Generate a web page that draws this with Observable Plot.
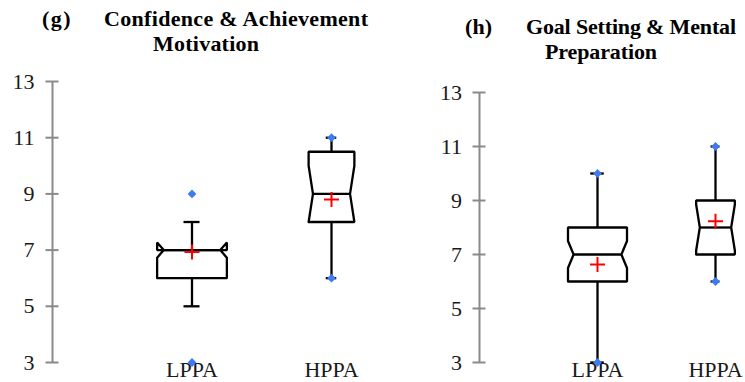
<!DOCTYPE html>
<html>
<head>
<meta charset="utf-8">
<script src="https://cdn.jsdelivr.net/npm/d3@7"></script>
<script src="https://cdn.jsdelivr.net/npm/@observablehq/plot@0.6"></script>
<style>
  html, body { margin: 0; padding: 0; background: #fff; }
  #root { position: relative; width: 745px; height: 382px; overflow: hidden; }
  #root svg { position: absolute; top: 0; }
  .t { position: absolute; font-family: "Liberation Serif", "Times New Roman", serif; font-weight: bold; font-size: 22px; line-height: 22px; white-space: nowrap; color: #000; }
</style>
</head>
<body>
<div id="root">
  <div class="t" data-w="29" style="left:42px;top:7.5px">(g)</div>
  <div class="t" data-w="264" style="left:104px;top:7.5px">Confidence &amp; Achievement</div>
  <div class="t" data-w="106" style="left:153px;top:33px">Motivation</div>
  <div class="t" data-w="27" style="left:465px;top:16px">(h)</div>
  <div class="t" data-w="210" style="left:526px;top:16px">Goal Setting &amp; Mental</div>
  <div class="t" data-w="112" style="left:545px;top:41px">Preparation</div>
</div>
<script>
// ---- data ----
const categories = ["LPPA", "HPPA"];
const yTicks = [3, 5, 7, 9, 11, 13];

// Panel (g) Confidence & Achievement Motivation
const gMin = [3, 6];
const gWhiskerLo = [5, 6];
const gQ1 = [6, 8];
const gMedian = [7, 9];
const gQ3 = [7, 10.5];
const gWhiskerHi = [8, 11];
const gMax = [9, 11];
const gMean = [6.93, 8.8];
const gNotchLo = [6.73, 8.0];
const gNotchHi = [7.27, 10.0];

// Panel (h) Goal Setting & Mental Preparation
const hMin = [3, 6];
const hWhiskerLo = [3, 6];
const hQ1 = [6, 7];
const hMedian = [7, 8];
const hQ3 = [8, 9];
const hWhiskerHi = [10, 11];
const hMax = [10, 11];
const hMean = [6.63, 8.23];
const hNotchLo = [6.5, 7.15];
const hNotchHi = [7.5, 8.85];

// ---- style ----
const boxHalfWidth = [0.25, 0.164];
const notchFrac = 0.19;   // notch inset as fraction of half width
const capFrac = 0.23;     // cap half width as fraction of half width
const axisGray = "#8a8a8a";
const pointBlue = "#3f7af5";
const fontFamily = "'Liberation Serif', 'Times New Roman', serif";

// fit title widths to the reference layout
document.querySelectorAll(".t").forEach(el => {
  const target = +el.dataset.w;
  const w = el.getBoundingClientRect().width;
  const n = el.textContent.length;
  const ls = Math.max(-1, Math.min(1.5, (target - w) / Math.max(1, n - 1)));
  el.style.letterSpacing = ls + "px";
});

const plusSymbol = {
  draw(ctx, size) {
    const r = Math.sqrt(size / Math.PI);
    ctx.moveTo(-r, 0); ctx.lineTo(r, 0);
    ctx.moveTo(0, -r); ctx.lineTo(0, r);
  }
};
const diamondSymbol = {
  draw(ctx, size) {
    const r = Math.sqrt(size / Math.PI);
    ctx.moveTo(0, -r); ctx.lineTo(r, 0); ctx.lineTo(0, r); ctx.lineTo(-r, 0); ctx.closePath();
  }
};

function panel(d, layout) {
  const rows = categories.map((c, i) => ({
    c, x: i + 1, hw: boxHalfWidth[i],
    min: d.min[i], wlo: d.wlo[i], q1: d.q1[i], med: d.med[i], q3: d.q3[i],
    whi: d.whi[i], max: d.max[i], mean: d.mean[i], nlo: d.nlo[i], nhi: d.nhi[i]
  }));
  const outline = rows.flatMap(r => {
    const L = r.x - r.hw, R = r.x + r.hw, n = r.hw * notchFrac;
    const pts = [
      [L, r.q1], [L, r.nlo], [L + n, r.med], [L, r.nhi], [L, r.q3],
      [R, r.q3], [R, r.nhi], [R - n, r.med], [R, r.nlo], [R, r.q1], [L, r.q1]
    ];
    return pts.map(([x, y]) => ({ x, y, g: r.c }));
  });
  const points = rows.flatMap(r => [{ x: r.x, y: r.min }, { x: r.x, y: r.max }]);
  const ppu = layout.ppu;
  const tickHalf = 6.5 / ppu;
  return Plot.plot({
    width: layout.width,
    height: 382,
    marginLeft: layout.originX,
    marginTop: layout.top,
    marginBottom: 20,
    marginRight: 0,
    style: { fontFamily, fontSize: "22px", color: "#1a1a1a", background: "transparent", overflow: "visible" },
    x: { type: "linear", domain: [0, 2.3], range: [layout.originX, layout.originX + 2.3 * ppu], label: null },
    y: { domain: [3, 13], range: [362, layout.top], label: null },
    marks: [
      Plot.ruleX([0], { y1: 3, y2: 13, stroke: axisGray, strokeWidth: 2 }),
      Plot.ruleY(yTicks, { y: d => d, x1: -tickHalf, x2: tickHalf, stroke: axisGray, strokeWidth: 2 }),
      Plot.axisY({ ticks: yTicks, tickSize: 0, tickPadding: layout.tickPad, label: null }),
      Plot.axisX({ ticks: [1, 2], tickFormat: v => categories[v - 1], tickSize: 0, tickPadding: -1.5, label: null }),
      Plot.ruleX(rows, { x: "x", y1: "q3", y2: "whi", stroke: "#000", strokeWidth: 2.3 }),
      Plot.ruleX(rows, { x: "x", y1: "wlo", y2: "q1", stroke: "#000", strokeWidth: 2.3 }),
      Plot.ruleY(rows, { y: "whi", x1: r => r.x - r.hw * capFrac, x2: r => r.x + r.hw * capFrac, stroke: "#000", strokeWidth: 2.3 }),
      Plot.ruleY(rows, { y: "wlo", x1: r => r.x - r.hw * capFrac, x2: r => r.x + r.hw * capFrac, stroke: "#000", strokeWidth: 2.3 }),
      Plot.line(outline, { x: "x", y: "y", z: "g", stroke: "#000", strokeWidth: 2.3, strokeLinejoin: "miter", curve: "linear" }),
      Plot.ruleY(rows, { y: "med", x1: r => r.x - r.hw * (1 - notchFrac), x2: r => r.x + r.hw * (1 - notchFrac), stroke: "#000", strokeWidth: 2.3 }),
      Plot.dot(points, { x: "x", y: "y", symbol: diamondSymbol, r: 4.4, fill: pointBlue, stroke: "none" }),
      Plot.dot(rows, { x: "x", y: "mean", symbol: plusSymbol, r: 7.5, stroke: "#ff0000", strokeWidth: 2, fill: "none" })
    ]
  });
}

const root = document.getElementById("root");
const svgG = panel({ min: gMin, wlo: gWhiskerLo, q1: gQ1, med: gMedian, q3: gQ3, whi: gWhiskerHi, max: gMax, mean: gMean, nlo: gNotchLo, nhi: gNotchHi },
  { width: 380, originX: 52, ppu: 139.5, top: 81, tickPad: 18 });
svgG.style.left = "0px";
root.appendChild(svgG);
const svgH = panel({ min: hMin, wlo: hWhiskerLo, q1: hQ1, med: hMedian, q3: hQ3, whi: hWhiskerHi, max: hMax, mean: hMean, nlo: hNotchLo, nhi: hNotchHi },
  { width: 365, originX: 99, ppu: 118, top: 92, tickPad: 17.5 });
svgH.style.left = "380px";
root.appendChild(svgH);
</script>
</body>
</html>
